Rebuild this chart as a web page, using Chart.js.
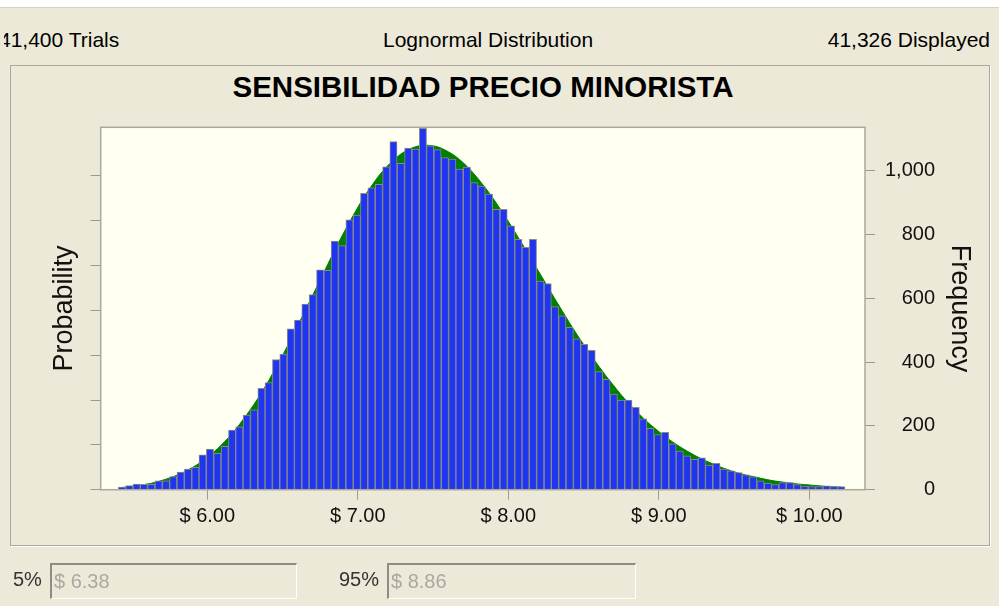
<!DOCTYPE html>
<html>
<head>
<meta charset="utf-8">
<title>Sensibilidad Precio Minorista</title>
<script src="https://cdn.jsdelivr.net/npm/chart.js@4.4.1/dist/chart.umd.min.js"></script>
<style>
    body {
        margin: 0;
        width: 999px;
        height: 606px;
        overflow: hidden;
        position: relative;
        background: #ece9d8;
        font-family: "Liberation Sans", Arial, sans-serif;
    }
    .topline {
        position: absolute; left: 0; top: 0; width: 999px; height: 7px;
        background: #fff; border-bottom: 1px solid #d6d3c6;
    }
    .hdr { position: absolute; top: 28px; font-size: 21px; color: #000; white-space: nowrap; }
    .edge { position: absolute; left: 0; top: 20px; width: 4px; height: 40px; background: #ece9d8; }
    .panel {
        position: absolute; left: 10px; top: 65px; width: 978px; height: 479px;
        border: 1px solid #aca899; box-shadow: 1px 1px 0 #fff;
    }
    .title {
        position: absolute; left: 183px; width: 600px; top: 70px; text-align: center;
        font-size: 29.5px; font-weight: bold; color: #000; white-space: nowrap;
    }
    #wrap { position: absolute; left: 0; top: 0; width: 999px; height: 606px; }
    .lbl { position: absolute; top: 568px; font-size: 20px; color: #333; white-space: nowrap; }
    .box {
        position: absolute; top: 563px; height: 36px; box-sizing: border-box;
        border-top: 2px solid #8e8c84; border-left: 2px solid #8e8c84;
        border-right: 1px solid #fff; border-bottom: 1px solid #fff;
        color: #a9a8a2; font-size: 20px; line-height: 32px; padding-left: 2px; white-space: nowrap;
    }
</style>
</head>
<body>
<div class="topline"></div>
<div class="hdr" style="left:-1px">41,400 Trials</div>
<div class="edge"></div>
<div class="hdr" style="left:383px">Lognormal Distribution</div>
<div class="hdr" style="right:9px">41,326 Displayed</div>
<div class="panel"></div>
<div class="title">SENSIBILIDAD PRECIO MINORISTA</div>
<div id="wrap"><canvas id="forecastChart"></canvas></div>
<div class="lbl" style="left:13px">5%</div>
<div class="box" style="left:50px;width:247px">$ 6.38</div>
<div class="lbl" style="left:339px">95%</div>
<div class="box" style="left:387px;width:249px">$ 8.86</div>

<script>
// bin centres ($) of the 99 histogram bars
const binCenters = [
    5.433, 5.482, 5.531, 5.579, 5.628, 5.677, 5.726, 5.774, 5.823, 5.872,
    5.921, 5.969, 6.018, 6.067, 6.116, 6.165, 6.213, 6.262, 6.311, 6.360,
    6.408, 6.457, 6.506, 6.555, 6.603, 6.652, 6.701, 6.750, 6.799, 6.847,
    6.896, 6.945, 6.994, 7.042, 7.091, 7.140, 7.189, 7.237, 7.286, 7.335,
    7.384, 7.433, 7.481, 7.530, 7.579, 7.628, 7.676, 7.725, 7.774, 7.823,
    7.872, 7.920, 7.969, 8.018, 8.067, 8.115, 8.164, 8.213, 8.262, 8.310,
    8.359, 8.408, 8.457, 8.505, 8.554, 8.603, 8.652, 8.701, 8.749, 8.798,
    8.847, 8.896, 8.944, 8.993, 9.042, 9.091, 9.139, 9.188, 9.237, 9.286,
    9.334, 9.383, 9.432, 9.481, 9.530, 9.578, 9.627, 9.676, 9.725, 9.773,
    9.822, 9.871, 9.920, 9.968, 10.017, 10.066, 10.115, 10.164, 10.212
];

// trials per bin
const frequency = [
    8, 13, 18, 17, 17, 28, 28, 41, 55, 65,
    70, 109, 127, 114, 136, 187, 197, 234, 250, 318,
    336, 408, 425, 504, 532, 582, 612, 689, 688, 779,
    765, 846, 861, 929, 946, 957, 1012, 1091, 1023, 1071,
    1068, 1133, 1078, 1066, 1041, 1036, 1005, 1011, 963, 952,
    927, 879, 879, 827, 785, 760, 785, 654, 646, 574,
    545, 509, 473, 456, 437, 370, 346, 300, 281, 281,
    258, 222, 192, 173, 180, 144, 121, 106, 95, 100,
    77, 83, 65, 59, 54, 47, 40, 28, 21, 16,
    22, 22, 16, 11, 10, 10, 12, 10, 10
];

// fitted lognormal curve (green), read at the same bin centres
const fitCurve = [
    7, 9, 12, 16, 20, 26, 33, 41, 50, 62,
    75, 90, 108, 128, 151, 176, 204, 235, 268, 304,
    342, 383, 426, 471, 516, 563, 610, 658, 705, 751,
    796, 839, 880, 918, 952, 984, 1011, 1033, 1052, 1066,
    1075, 1080, 1079, 1075, 1065, 1052, 1035, 1014, 989, 961,
    931, 899, 864, 828, 790, 753, 714, 675, 636, 598,
    560, 522, 486, 452, 418, 386, 355, 326, 298, 272,
    248, 225, 204, 185, 166, 150, 135, 121, 108, 96,
    86, 76, 67, 59, 52, 46, 41, 36, 31, 27,
    24, 21, 18, 16, 14, 12, 10, 9, 8
];

const xTickValues = [6, 7, 8, 9, 10];
const xTickLabels = ['$ 6.00', '$ 7.00', '$ 8.00', '$ 9.00', '$ 10.00'];
const freqTicks = [0, 200, 400, 600, 800, 1000];
const probTicks = [0, 0.0034, 0.0068, 0.0102, 0.0136, 0.0170, 0.0204, 0.0238];

const displayedTrials = 41326;
const xMin = 5.292, xMax = 10.37;
const freqMax = 1136;

Chart.defaults.font.family = '"Liberation Sans", Arial, sans-serif';
Chart.defaults.color = '#111';

const axisGray = '#9d9b90';

// ivory plot background and thin frame
const plotFrame = {
    id: 'plotFrame',
    beforeDraw(chart) {
        const { ctx, chartArea: a } = chart;
        ctx.save();
        ctx.fillStyle = '#fffff2';
        ctx.fillRect(a.left, a.top, a.right - a.left, a.bottom - a.top);
        ctx.restore();
    },
    afterDatasetsDraw(chart) {
        const { ctx, chartArea: a } = chart;
        ctx.save();
        ctx.strokeStyle = '#aaa89d';
        ctx.lineWidth = 1.5;
        ctx.strokeRect(a.left, a.top, a.right - a.left, a.bottom - a.top);
        ctx.restore();
    }
};

const forecastChart = new Chart(document.getElementById('forecastChart'), {
    type: 'bar',
    data: {
        datasets: [{
            type: 'bar',
            data: binCenters.map((x, i) => ({ x: x, y: frequency[i] })),
            backgroundColor: '#1f35f0',
            borderColor: '#8a8a8a',
            borderWidth: { top: 1, left: 1, right: 1, bottom: 0 },
            barPercentage: 1,
            categoryPercentage: 1,
            yAxisID: 'freq',
            order: 1
        }, {
            type: 'line',
            data: binCenters.map((x, i) => ({ x: x, y: fitCurve[i] })),
            borderColor: '#008000',
            backgroundColor: '#008000',
            borderWidth: 1,
            fill: 'origin',
            pointRadius: 0,
            cubicInterpolationMode: 'monotone',
            yAxisID: 'freq',
            order: 2
        }]
    },
    options: {
        responsive: true,
        maintainAspectRatio: false,
        animation: false,
        // right padding leaves the frequency labels ending at x = 935
        layout: { padding: { left: 10, right: 64, top: 127.3, bottom: 60 } },
        plugins: {
            legend: { display: false },
            tooltip: { enabled: false }
        },
        scales: {
            x: {
                type: 'linear',
                min: xMin,
                max: xMax,
                offset: false,
                afterBuildTicks: axis => { axis.ticks = xTickValues.map(v => ({ value: v })); },
                afterFit: scale => { scale.height = 56.3; },
                ticks: {
                    callback: (v, i) => xTickLabels[i],
                    font: { size: 20 },
                    padding: 5,
                    maxRotation: 0,
                    autoSkip: false
                },
                grid: { drawOnChartArea: false, tickLength: 10, color: axisGray, offset: false },
                border: { display: false }
            },
            prob: {
                type: 'linear',
                position: 'left',
                min: 0,
                max: freqMax / displayedTrials,
                afterBuildTicks: axis => { axis.ticks = probTicks.map(v => ({ value: v })); },
                afterFit: scale => { scale.width = 90.7; },
                ticks: { display: false },
                grid: { drawOnChartArea: false, tickLength: 10, color: axisGray },
                border: { display: false },
                title: {
                    display: true,
                    text: 'Probability',
                    font: { size: 27 },
                    padding: { top: 38.8, bottom: 0 }
                }
            },
            freq: {
                type: 'linear',
                position: 'right',
                min: 0,
                max: freqMax,
                afterBuildTicks: axis => { axis.ticks = freqTicks.map(v => ({ value: v })); },
                afterFit: scale => { scale.width = 70; },
                ticks: {
                    callback: v => v.toLocaleString('en-US'),
                    font: { size: 20 },
                    crossAlign: 'far',
                    padding: 10
                },
                grid: { drawOnChartArea: false, tickLength: 10, color: axisGray },
                border: { display: false },
                title: {
                    display: true,
                    text: 'Frequency',
                    font: { size: 27 },
                    // negative padding pushes the title out past the label column
                    padding: { top: -40.2, bottom: 0 }
                }
            }
        }
    },
    plugins: [plotFrame]
});
</script>
</body>
</html>
